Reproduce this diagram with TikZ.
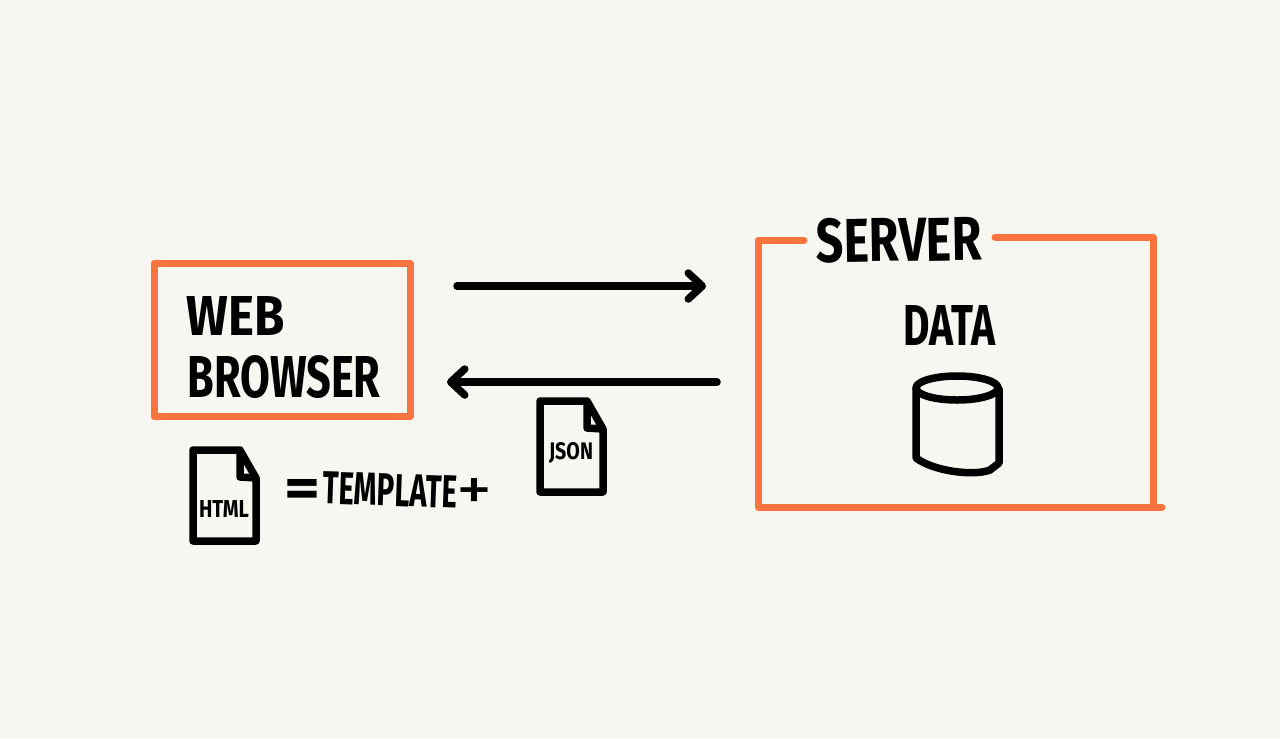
\documentclass[tikz,border=0pt]{standalone}
\usepackage{fontspec}
\setmainfont{Fira Sans}
\usetikzlibrary{arrows.meta}
\definecolor{paper}{RGB}{247,247,242}
\definecolor{frameorange}{RGB}{251,116,64}
\newlength{\px}
\setlength{\px}{0.02cm}
\newcommand{\handlabel}[3]{\resizebox{#1\px}{#2\px}{#3}}
\tikzset{
  handtext/.style={inner sep=0pt,outer sep=0pt,font=\bfseries},
  plaintext/.style={inner sep=0pt,outer sep=0pt},
  frameline/.style={draw=frameorange,line width=7\px,line cap=round,line join=round},
  inkline/.style={draw=black,line width=7.5\px,line cap=round,line join=round},
  flow/.style={inkline,-{Straight Barb[length=0.28cm,width=0.52cm,round]}}
}
\begin{document}
\begin{tikzpicture}[x=0.02cm,y=-0.02cm]
\fill[paper] (0,0) rectangle (1280,738);
\useasboundingbox (0,0) rectangle (1280,738);
% browser
\node[frameline,inner sep=0pt,outer sep=0pt,minimum width=256\px,minimum height=153\px] (browser) at (282,340) {};
\node[handtext] (web) at (236,316) {\handlabel{98}{39}{WEB}};
\node[handtext] (bro) at (284,377) {\handlabel{193}{42}{BROWSER}};
% server
\draw[frameline] (804,240)--(758,240)--(758,507)--(1162,507);
\draw[frameline] (995,237)--(1153,237)--(1153,507);
\node[handtext,rotate=1] (server) at (899,240) {\handlabel{165}{44}{SERVER}};
\node[handtext] (data) at (949,325) {\handlabel{92}{40}{DATA}};
\coordinate (serverleft) at (758,372);
% database
\draw[inkline] (957,388) ellipse (41 and 12);
\draw[inkline] (916,389)--(916,458) .. controls (935,472) and (975,476) .. (990,470) -- (999,463)--(999,389);
% arrows
\coordinate (reqa) at ([shift={(47,-54)}]browser.east);
\coordinate (reqb) at ([shift={(-52,-86)}]serverleft);
\coordinate (resa) at ([shift={(-41,10)}]serverleft);
\coordinate (resb) at ([shift={(37,42)}]browser.east);
\draw[flow] (reqa)--(reqb);
\draw[flow] (resa)--(resb);
% file icons
\foreach \x/\y/\ttl/\w/\h in {193/450/HTML/50/59,540/401/JSON/44/52}{
  \begin{scope}[shift={(\x,\y)}]
    \draw[inkline] (47,0)--(0,0)--(0,91)--(63,91)--(63,28)--(47,0)--(47,27)--(63,28);
    \node[handtext] (\ttl) at (31,\h) {\handlabel{\w}{17}{\ttl}};
  \end{scope}
}
% equation
\node[handtext] (eq) at (302,493) {\handlabel{36}{28}{=}};
\node[handtext,rotate=-2] (tmpl) at (390,490) {\handlabel{134}{32}{TEMPLATE}};
\node[plaintext] (plus) at (474,494) {\handlabel{36}{32}{+}};
\end{tikzpicture}
\end{document}
